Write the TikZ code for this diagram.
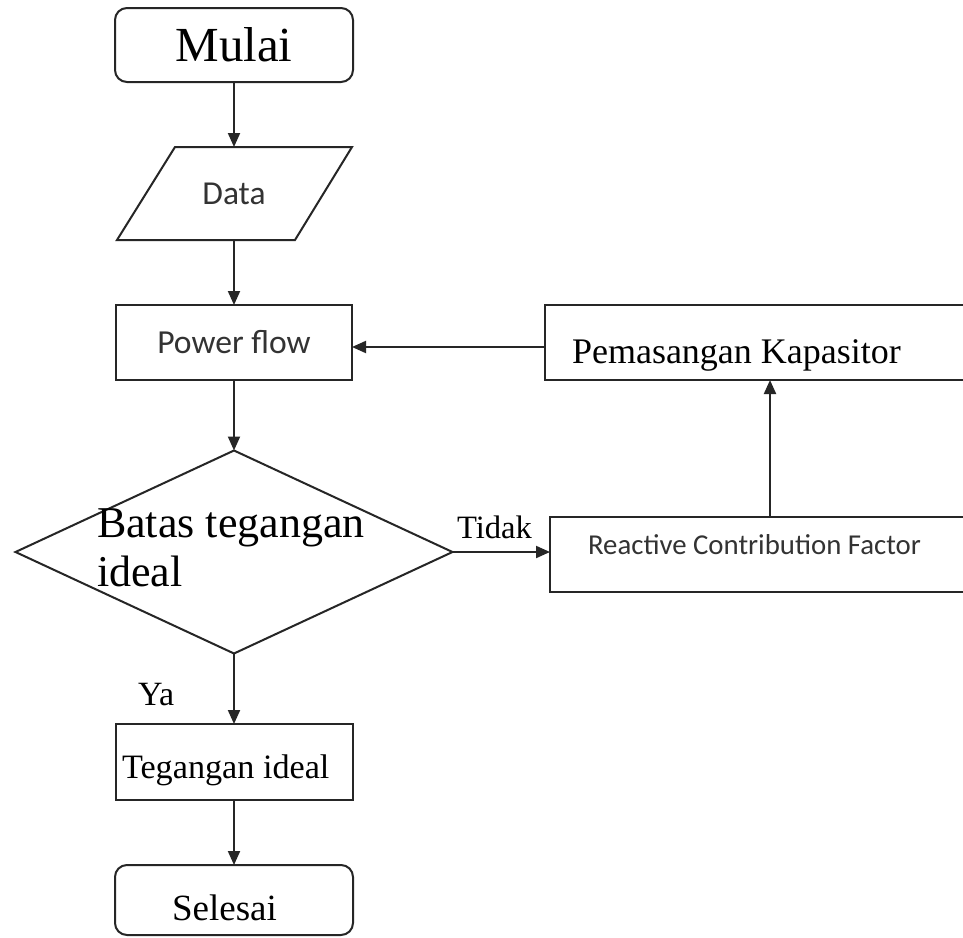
\documentclass[tikz,border=0pt]{standalone}
\usepackage{fontspec}
\setmainfont{Liberation Serif}
\newfontfamily\calib{Carlito}
\usetikzlibrary{arrows.meta,shapes.geometric}
\begin{document}
\begin{tikzpicture}[x=1pt,y=-1pt,
  line width=2pt,
  every node/.style={outer sep=0pt},
  arr/.style={draw=black!85,-{Triangle[length=14pt,width=12pt]}},
  box/.style={draw=black!85, rectangle, inner sep=0pt},
  rbox/.style={draw=black!85, rectangle, rounded corners=12pt, inner sep=0pt},
  sans/.style={text=black!80, inner sep=0pt},
  serif/.style={text=black, inner sep=0pt}]
\useasboundingbox (0,0) rectangle (963,937);
\fill[white] (0,0) rectangle (963,937);
\clip (0,0) rectangle (963,937);

\node[rbox, minimum width=238pt, minimum height=74pt, font=\fontsize{49}{55}\selectfont] (mulai) at (234,45) {Mulai};

\draw[black!85] (175,147) -- (352,147) -- (295,240) -- (117,240) -- cycle;
\node[sans, minimum width=120pt, minimum height=93pt, font=\calib\fontsize{33.5}{40}\selectfont] (data) at (234,193.5) {Data};

\node[box, minimum width=236pt, minimum height=75pt, font=\calib\fontsize{33.6}{40}\selectfont, text=black!80] (power) at (234,342.5) {Power flow};

\node[draw=black!85, diamond, minimum width=437pt, minimum height=203pt, inner sep=0pt] (dec) at (234,552) {};
\node[serif, anchor=west, align=left, font=\fontsize{44}{49}\selectfont] (dectext) at (97,548) {Batas tegangan\\ideal};

\node[serif, anchor=base west, font=\fontsize{32.6}{38}\selectfont] (tidak) at (457,538) {Tidak};

\node[box, minimum width=440pt, minimum height=75pt] (rcf) at (770,554.5) {};
\node[sans, font=\calib\fontsize{28.8}{34}\selectfont] (rcftext) at (754.5,545) {Reactive Contribution Factor};

\node[box, minimum width=450pt, minimum height=75pt] (kap) at (770,342.5) {};
\node[serif, anchor=base west, font=\fontsize{36}{42}\selectfont] (kaptext) at (572,363) {Pemasangan Kapasitor};

\node[serif, anchor=base west, font=\fontsize{34}{40}\selectfont] (ya) at (138,705) {Ya};

\node[box, minimum width=237pt, minimum height=76pt] (teg) at (234,762) {};
\node[serif, anchor=base west, font=\fontsize{34.2}{40}\selectfont] (tegtext) at (122,778) {Tegangan ideal};

\node[rbox, minimum width=238pt, minimum height=70pt] (selesai) at (234,900) {};
\node[serif, anchor=base, font=\fontsize{37}{44}\selectfont] (seltext) at (224.5,920) {Selesai};

\draw[arr] (mulai.south) -- (data.north);
\draw[arr] (data.south) -- (power.north);
\draw[arr] (power.south) -- (dec.north);
\draw[arr] (dec.east) -- (dec.east -| rcf.west);
\draw[arr] (rcf.north) -- (kap.south);
\draw[arr] ([yshift=-4.5pt]kap.west) -- ([yshift=-4.5pt]power.east);
\draw[arr] (dec.south) -- (teg.north);
\draw[arr] (teg.south) -- (selesai.north);
\end{tikzpicture}
\end{document}
